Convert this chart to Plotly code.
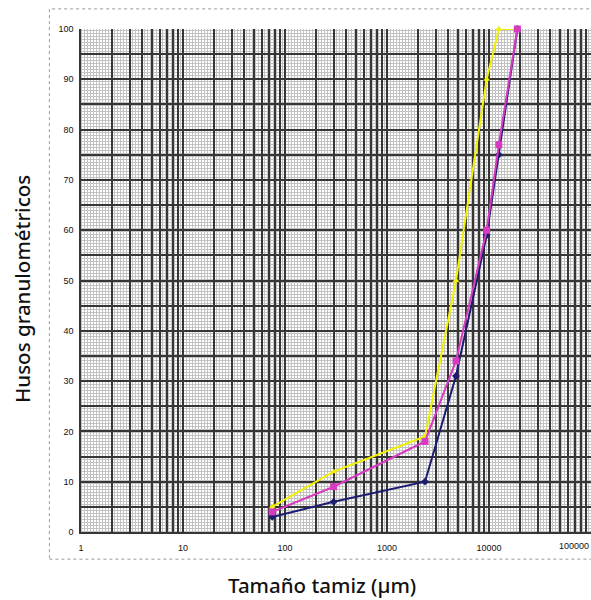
import math
import plotly.graph_objects as go

sieve_um = [75, 300, 2360, 4750, 9500, 12500, 19000]
navy_pct = [3, 6, 10, 31, 59, 75, 100]
magenta_pct = [4, 9, 18, 34, 60, 77, 100]
yellow_pct = [5, 12, 19, 50, 90, 100, 100]

x_tickvals = [1, 10, 100, 1000, 10000, 100000]
x_ticktext = ["1", "10", "100", "1000", "10000", "100000"]
y_tickvals = list(range(0, 101, 10))

W, H = 591, 600
ML, MR, MT, MB = 81, 0, 29, 68
PW, PH = W - ML - MR, H - MT - MB

fig = go.Figure()
fig.add_trace(go.Scatter(x=sieve_um, y=yellow_pct, mode="lines+markers",
                         line=dict(color="#f2f200", width=2), cliponaxis=False,
                         marker=dict(symbol="triangle-up", size=6, color="#f2f200"),
                         showlegend=False))
fig.add_trace(go.Scatter(x=sieve_um, y=navy_pct, mode="lines+markers",
                         line=dict(color="#1c1c70", width=2), cliponaxis=False,
                         marker=dict(symbol="diamond", size=6, color="#1c1c70"),
                         showlegend=False))
fig.add_trace(go.Scatter(x=sieve_um, y=magenta_pct, mode="lines+markers",
                         line=dict(color="#d63cc0", width=2), cliponaxis=False,
                         marker=dict(symbol="square", size=7, color="#d63cc0"),
                         showlegend=False))

grid_col = "#363636"
title_font = dict(family="Noto Sans", size=20.5, color="#111", weight=500)
tick_font = dict(family="Liberation Sans", size=9, color="#111")
shown_x_text = x_ticktext[:-1] + [""]
fig.update_xaxes(type="log", range=[0, 5.0006], automargin=False,
                 tickvals=x_tickvals, ticktext=shown_x_text,
                 showgrid=True, gridcolor=grid_col, gridwidth=1.5,
                 minor=dict(dtick="D1", showgrid=True, gridcolor=grid_col, gridwidth=1.5),
                 zeroline=False, showline=True, linecolor=grid_col, linewidth=1.5,
                 ticks="", ticklabelstandoff=6, tickfont=tick_font)
fig.update_yaxes(range=[0, 100], tickvals=y_tickvals, automargin=False,
                 showgrid=True, gridcolor=grid_col, gridwidth=1.5,
                 minor=dict(dtick=5, showgrid=True, gridcolor=grid_col, gridwidth=1.5),
                 zeroline=False, showline=True, linecolor=grid_col, linewidth=1.5,
                 ticks="", ticklabelstandoff=4, tickfont=tick_font)

# last x tick label, right-aligned so it stays inside the page
fig.add_annotation(text=x_ticktext[-1], x=math.log10(x_tickvals[-1]), xref="x",
                   yref="paper", y=-0.028, xanchor="right", yanchor="middle",
                   showarrow=False, font=tick_font)

fig.add_annotation(text="Tamaño tamiz (µm)", xref="paper", yref="paper",
                   x=0.4725, y=-0.105, xanchor="center", yanchor="middle",
                   showarrow=False, font=title_font)
fig.add_annotation(text="Husos granulométricos", xref="paper", yref="paper",
                   x=-0.1157, y=0.483, xanchor="center", yanchor="middle",
                   textangle=-90, showarrow=False, font=title_font)

# fine halftone lattice of the graph paper background
shapes = []
pitch = 3
for k in range(0, PW // pitch + 1):
    xf = (k * pitch + 0.5) / PW
    shapes.append(dict(type="line", xref="paper", yref="paper", x0=xf, x1=xf, y0=0, y1=1,
                       line=dict(color="#c2c2c2", width=1), layer="below"))
for k in range(0, PH // pitch + 1):
    yf = (k * pitch + 0.5) / PH
    shapes.append(dict(type="line", xref="paper", yref="paper", x0=0, x1=1, y0=yf, y1=yf,
                       line=dict(color="#c2c2c2", width=1), layer="below"))
shapes.append(dict(type="rect", xref="paper", yref="paper",
                   x0=-0.062, x1=1.01, y0=-0.054, y1=1.04,
                   line=dict(color="#9a9a9a", width=1, dash="dot"), layer="below"))

fig.update_layout(width=W, height=H, shapes=shapes,
                  margin=dict(l=ML, r=MR, t=MT, b=MB),
                  plot_bgcolor="white", paper_bgcolor="white")

fig.write_html("out.html")
